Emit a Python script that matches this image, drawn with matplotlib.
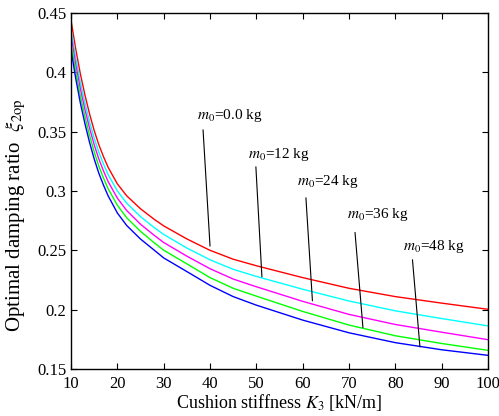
import numpy as np
import matplotlib
matplotlib.use('Agg')
import matplotlib.pyplot as plt

plt.rcParams['font.family'] = ['Liberation Serif', 'DejaVu Serif']
plt.rcParams['mathtext.fontset'] = 'stix'

# Cushion stiffness K3 [kN/m]
k3 = [10, 11, 12, 13, 14, 15, 16, 17, 18, 20, 22, 25, 28, 30, 35, 40, 45, 50, 60, 70, 80, 90, 100]

# Optimal damping ratio, one list per added mass m0
xi_m0_00 = [0.444, 0.420, 0.399, 0.381, 0.365, 0.351, 0.339, 0.329, 0.320, 0.306, 0.296, 0.285,
            0.276, 0.2706, 0.2596, 0.250, 0.2425, 0.237, 0.227, 0.218, 0.211, 0.2055, 0.2003]
xi_m0_12 = [0.4365, 0.4127, 0.392, 0.3742, 0.3584, 0.3445, 0.3327, 0.3228, 0.3139, 0.300, 0.2898, 0.2784,
            0.269, 0.2634, 0.2519, 0.242, 0.234, 0.228, 0.2172, 0.2073, 0.199, 0.1925, 0.1863]
xi_m0_24 = [0.431, 0.4072, 0.3865, 0.3688, 0.353, 0.339, 0.327, 0.317, 0.308, 0.294, 0.2836, 0.272,
            0.2625, 0.2566, 0.2451, 0.2345, 0.2258, 0.2193, 0.207, 0.196, 0.1875, 0.181, 0.1747]
xi_m0_36 = [0.425, 0.4013, 0.3805, 0.3628, 0.347, 0.333, 0.321, 0.311, 0.302, 0.288, 0.2775, 0.266,
            0.2562, 0.2501, 0.2386, 0.227, 0.218, 0.2114, 0.1985, 0.187, 0.178, 0.1715, 0.1657]
xi_m0_48 = [0.419, 0.3953, 0.3745, 0.3568, 0.341, 0.327, 0.315, 0.305, 0.296, 0.2815, 0.271, 0.2595,
            0.250, 0.2436, 0.2321, 0.2205, 0.211, 0.2038, 0.1912, 0.1805, 0.1722, 0.1662, 0.1615]

series = [xi_m0_00, xi_m0_12, xi_m0_24, xi_m0_36, xi_m0_48]
colors = ['#ff0000', '#00ffff', '#ff00ff', '#00ff00', '#0000ff']

# annotation labels, text anchor and leader line (start -> end on the curve)
labels = ['$m_0$=0.0 kg', '$m_0$=12 kg', '$m_0$=24 kg', '$m_0$=36 kg', '$m_0$=48 kg']
text_pos = [(37.1, 0.3607), (48.2, 0.3276), (58.7, 0.305), (69.6, 0.277), (81.7, 0.2503)]
line_start = [(38.5, 0.3514), (49.9, 0.3202), (60.7, 0.2941), (71.3, 0.2649), (83.7, 0.2419)]
line_end = [(40.0, 0.2537), (51.2, 0.2278), (62.1, 0.2076), (73.0, 0.1851), (85.3, 0.1688)]

fig = plt.figure(figsize=(4.99, 4.16), dpi=100)
ax = fig.add_axes([0.1423, 0.113, 0.8357, 0.8558])

for y, c in zip(series, colors):
    ax.plot(k3, y, color=c, lw=1.0)

for lab, tp, s, e in zip(labels, text_pos, line_start, line_end):
    ax.plot([s[0], e[0]], [s[1], e[1]], color='k', lw=0.8)
    ax.text(tp[0], tp[1], lab, fontsize=11, ha='left', va='baseline')

ax.set_xlim(10, 100)
ax.set_ylim(0.15, 0.45)
ax.set_xticks(np.arange(10, 101, 10))
ax.set_yticks([0.15, 0.2, 0.25, 0.3, 0.35, 0.4, 0.45])
ax.set_yticklabels(['0.15', '0.2', '0.25', '0.3', '0.35', '0.4', '0.45'])
ax.tick_params(direction='in', top=True, right=True, length=4, width=0.8, labelsize=12)
ax.tick_params(axis='x', pad=5)
for sp in ax.spines.values():
    sp.set_linewidth(1.0)

ax.set_xlabel('Cushion stiffness $K_3$ [kN/m]', fontsize=13, labelpad=0)
ax.set_ylabel(r'Optimal damping ratio  $\xi_{2\mathrm{op}}$', fontsize=15)
ax.yaxis.set_label_coords(-0.103, 0.433)

fig.savefig('out.png', dpi=100)
